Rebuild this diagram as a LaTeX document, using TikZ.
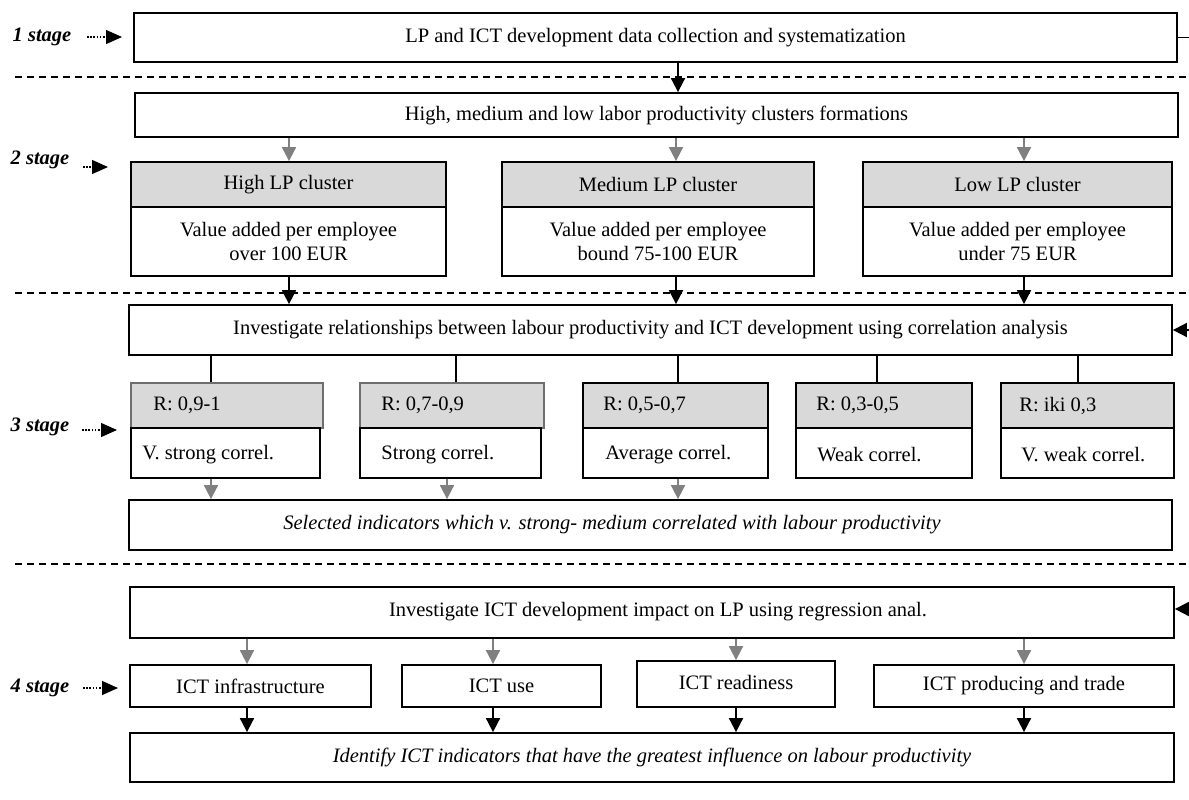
\documentclass[tikz,border=0pt]{standalone}
\usepackage{fontspec}
\setmainfont{Liberation Serif}
\usetikzlibrary{arrows.meta,fit}
\definecolor{boxgray}{RGB}{217,217,217}
\definecolor{arrgray}{RGB}{128,128,128}
\definecolor{edgegray}{RGB}{110,110,110}
\begin{document}
\begin{tikzpicture}[x=0.5pt,y=-0.5pt,
  font=\fontsize{10.25}{12}\selectfont,
  box/.style={draw, line width=0.9pt, inner sep=0pt},
  graybox/.style={box, fill=boxgray},
  txt/.style={align=center, inner sep=0pt},
  blackarr/.style={line width=0.9pt, -{Triangle[length=7pt,width=7pt]}},
  grayarr/.style={line width=0.9pt, color=arrgray, -{Triangle[length=7pt,width=7pt]}},
  plainline/.style={line width=0.9pt},
  dashline/.style={line width=0.8pt, dash pattern=on 3.5pt off 2.5pt},
  stagearr/.style={line width=0.6pt, dash pattern=on 0.8pt off 0.8pt, -{Triangle[length=8pt,width=7pt]}},
  stagelbl/.style={font=\fontsize{10.25}{12}\selectfont\bfseries\itshape},
  ltext/.style={anchor=west, inner sep=0pt}]
\useasboundingbox (0,0) rectangle (1189,799);

% ---------- stage labels ----------
\node[stagelbl] (s1) at (42,37) {1 stage};
\coordinate (s1a) at (87,37);  \coordinate (s1b) at (122,37);
\draw[stagearr] (s1a) -- (s1b);
\node[stagelbl] (s2) at (40,160) {2 stage};
\coordinate (s2a) at (83,167); \coordinate (s2b) at (108,167);
\draw[stagearr] (s2a) -- (s2b);
\node[stagelbl] (s3) at (40,427) {3 stage};
\coordinate (s3a) at (82,430); \coordinate (s3b) at (117,430);
\draw[stagearr] (s3a) -- (s3b);
\node[stagelbl] (s4) at (40,688) {4 stage};
\coordinate (s4a) at (83,688); \coordinate (s4b) at (118,688);
\draw[stagearr] (s4a) -- (s4b);

% ---------- dashed separators ----------
\draw[dashline] (15,77) -- (1189,77);
\draw[dashline] (15,293) -- (1189,293);
\draw[dashline] (15,564) -- (1189,564);

% ---------- stage 1 ----------
\node[box, fit={(134,13) (1177,62)}] (b1) {};
\node[txt] (t1) at (b1.center) {LP and ICT development data collection and systematization};
\coordinate (edge1) at (1189,37.5);
\draw[plainline] (b1.east) -- (edge1);

% ---------- stage 2 ----------
\node[box, fit={(135,93) (1178,137)}] (b2) {};
\node[txt] (t2) at (b2.center) {High, medium and low labor productivity clusters formations};
\coordinate (cA) at (678,0);
\draw[blackarr] (b1.south -| cA) -- (b2.north -| cA);

\node[graybox, fit={(131,162) (446,207)}] (hiT) {};
\node[txt] (hiTt) at (hiT.center) {High LP cluster};
\node[box, fit={(131,207) (446,276)}] (hiB) {};
\node[txt] (hiBt) at (hiB.center) {Value added per employee\\over 100 EUR};
\node[graybox, fit={(502,162) (814,207)}] (meT) {};
\node[txt] (meTt) at (meT.center) {Medium LP cluster};
\node[box, fit={(502,207) (814,276)}] (meB) {};
\node[txt] (meBt) at (meB.center) {Value added per employee\\bound 75-100 EUR};
\node[graybox, fit={(863,162) (1172,207)}] (loT) {};
\node[txt] (loTt) at (loT.center) {Low LP cluster};
\node[box, fit={(863,207) (1172,276)}] (loB) {};
\node[txt] (loBt) at (loB.center) {Value added per employee\\under 75 EUR};

\coordinate (c1) at (289,0); \coordinate (c2) at (676,0); \coordinate (c3) at (1024,0);
\draw[grayarr] (b2.south -| c1) -- (hiT.north -| c1);
\draw[grayarr] (b2.south -| c2) -- (meT.north -| c2);
\draw[grayarr] (b2.south -| c3) -- (loT.north -| c3);

% ---------- stage 3 ----------
\node[box, fit={(129,305) (1172,355)}] (b3) {};
\node[txt] (b3t) at (b3.center) {Investigate relationships between labour productivity and ICT development using correlation analysis};
\draw[blackarr] (hiB.south -| c1) -- (b3.north -| c1);
\draw[blackarr] (meB.south -| c2) -- (b3.north -| c2);
\draw[blackarr] (loB.south -| c3) -- (b3.north -| c3);
\coordinate (rin3) at (1189,330);
\draw[blackarr] (rin3) -- (b3.east);

\node[box, fill=boxgray, draw=edgegray, fit={(131,383) (323,428)}] (r1T) {};
\node[box, fit={(131,428) (320,478)}] (r1B) {};
\node[box, fill=boxgray, draw=edgegray, fit={(360,383) (544,428)}] (r2T) {};
\node[box, fit={(360,428) (541,478)}] (r2B) {};
\node[graybox, fit={(583,383) (768,428)}] (r3T) {};
\node[box, fit={(583,428) (768,478)}] (r3B) {};
\node[graybox, fit={(796,383) (972,428)}] (r4T) {};
\node[box, fit={(796,428) (972,478)}] (r4B) {};
\node[graybox, fit={(1001,383) (1174,428)}] (r5T) {};
\node[box, fit={(1001,428) (1174,478)}] (r5B) {};

\node[ltext] (r1a) at (153,405.5) {R: 0,9-1};
\node[ltext] (r1b) at (142,455) {V. strong correl.};
\node[ltext] (r2a) at (381,405.5) {R: 0,7-0,9};
\node[ltext] (r2b) at (381,455) {Strong correl.};
\node[ltext] (r3a) at (603,405.5) {R: 0,5-0,7};
\node[ltext] (r3b) at (605,455) {Average correl.};
\node[ltext] (r4a) at (816,405.5) {R: 0,3-0,5};
\node[ltext] (r4b) at (817,455) {Weak correl.};
\node[ltext] (r5a) at (1019,405.5) {R: iki 0,3};
\node[ltext] (r5b) at (1021,455) {V. weak correl.};

\coordinate (d1) at (211,0); \coordinate (d2) at (456,0); \coordinate (d3) at (678,0);
\coordinate (d4) at (877,0); \coordinate (d5) at (1078,0);
\draw[plainline] (b3.south -| d1) -- (r1T.north -| d1);
\draw[plainline] (b3.south -| d2) -- (r2T.north -| d2);
\draw[plainline] (b3.south -| d3) -- (r3T.north -| d3);
\draw[plainline] (b3.south -| d4) -- (r4T.north -| d4);
\draw[plainline] (b3.south -| d5) -- (r5T.north -| d5);

\node[box, fit={(129,500) (1172,550)}] (sel) {};
\node[txt, font=\fontsize{10.25}{12}\selectfont\itshape] (tsel) at (612,525) {Selected indicators which v. strong- medium correlated with labour productivity};
\coordinate (e1) at (211,0); \coordinate (e2) at (447,0); \coordinate (e3) at (678,0);
\draw[grayarr] (r1B.south -| e1) -- (sel.north -| e1);
\draw[grayarr] (r2B.south -| e2) -- (sel.north -| e2);
\draw[grayarr] (r3B.south -| e3) -- (sel.north -| e3);

% ---------- stage 4 ----------
\node[box, fit={(130,587) (1174,638)}] (b4) {};
\node[txt] (b4t) at (658,612) {Investigate ICT development impact on LP using regression anal.};
\coordinate (rin4) at (1189,609);
\draw[blackarr] (rin4) -- (b4.east |- rin4);

\node[box, fit={(130,665) (371,707)}] (i1) {};
\node[txt] (i1t) at (i1.center) {ICT infrastructure};
\node[box, fit={(402,665) (601,707)}] (i2) {};
\node[txt] (i2t) at (i2.center) {ICT use};
\node[box, fit={(637,661) (835,707)}] (i3) {};
\node[txt] (i3t) at (736,682) {ICT readiness};
\node[box, fit={(874,665) (1174,707)}] (i4) {};
\node[txt] (i4t) at (i4.center) {ICT producing and trade};

\node[box, fit={(130,733) (1174,782)}] (b5) {};
\node[txt, font=\fontsize{10.25}{12}\selectfont\itshape] (b5t) at (b5.center) {Identify ICT indicators that have the greatest influence on labour productivity};

\coordinate (f1) at (247,0); \coordinate (f2) at (493,0); \coordinate (f3) at (736,0); \coordinate (f4) at (1024,0);
\draw[grayarr] (b4.south -| f1) -- (i1.north -| f1);
\draw[grayarr] (b4.south -| f2) -- (i2.north -| f2);
\draw[grayarr] (b4.south -| f3) -- (i3.north -| f3);
\draw[grayarr] (b4.south -| f4) -- (i4.north -| f4);
\draw[blackarr] (i1.south -| f1) -- (b5.north -| f1);
\draw[blackarr] (i2.south -| f2) -- (b5.north -| f2);
\draw[blackarr] (i3.south -| f3) -- (b5.north -| f3);
\draw[blackarr] (i4.south -| f4) -- (b5.north -| f4);
\end{tikzpicture}
\end{document}
